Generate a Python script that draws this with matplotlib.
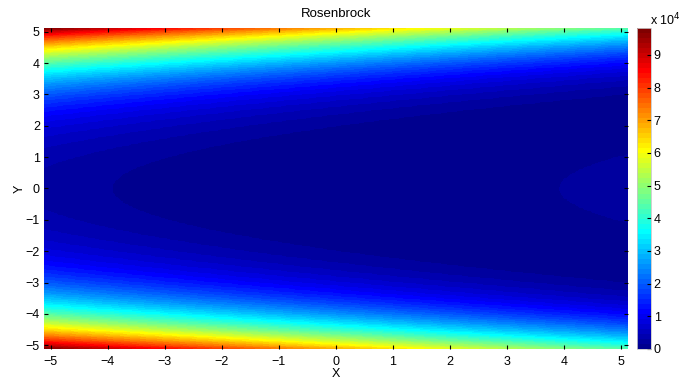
import numpy as np
import matplotlib
matplotlib.use("Agg")
import matplotlib.pyplot as plt
from matplotlib.colors import ListedColormap, Normalize

# domain of the surface and sampling step
x_min, x_max = -5.12, 5.12
y_min, y_max = -5.12, 5.12
step = 0.02

x_ticks = [-5, -4, -3, -2, -1, 0, 1, 2, 3, 4, 5]
y_ticks = [-5, -4, -3, -2, -1, 0, 1, 2, 3, 4, 5]
cbar_ticks = [0, 1, 2, 3, 4, 5, 6, 7, 8, 9]   # in units of 1e4

plt.rcParams['font.family'] = ['Liberation Sans', 'DejaVu Sans']
plt.rcParams['font.size'] = 9


def rosenbrock(x, y):
    # valley runs along x = y^2
    return 100.0 * (x - y**2)**2 + (1.0 - y)**2


def matlab_jet(n=64):
    m = int(np.ceil(n / 4))
    u = np.concatenate([np.arange(1, m + 1) / m, np.ones(m - 1), np.arange(m, 0, -1) / m])
    g = np.arange(1, len(u) + 1) + (n // 8)
    r = g + m
    b = g - m
    gg = g[g <= n]
    rr = r[r <= n]
    bb = b[b >= 1]
    J = np.zeros((n, 3))
    J[rr - 1, 0] = u[:len(rr)]
    J[gg - 1, 1] = u[:len(gg)]
    J[bb - 1, 2] = u[len(u) - len(bb):]
    return ListedColormap(J)


xs = np.arange(x_min, x_max + step / 2, step)
ys = np.arange(y_min, y_max + step / 2, step)
X, Y = np.meshgrid(xs, ys)
Z = rosenbrock(X, Y)

fig = plt.figure(figsize=(6.97, 3.81), dpi=100)
ax = fig.add_axes([0.0631, 0.084, 0.8375, 0.8425])
cax = fig.add_axes([0.914, 0.084, 0.020, 0.8425])

cmap = matlab_jet(64)
norm = Normalize(vmin=Z.min(), vmax=Z.max())
mesh = ax.pcolormesh(X, Y, Z, cmap=cmap, norm=norm, shading='auto', rasterized=True)
ax.set_xlim(x_min, x_max)
ax.set_ylim(y_min, y_max)
ax.set_xticks(x_ticks)
ax.set_yticks(y_ticks)
ax.tick_params(direction='in', length=3, top=True, right=True, pad=3)
ax.tick_params(axis='x', pad=5)
for s in ax.spines.values():
    s.set_visible(False)
ax.set_title('Rosenbrock', fontsize=9.5, pad=8)
ax.set_xlabel('X', labelpad=0)
ax.set_ylabel('Y', labelpad=0)

cb = fig.colorbar(mesh, cax=cax)
cb.set_ticks([t * 1e4 for t in cbar_ticks])
cb.set_ticklabels([str(t) for t in cbar_ticks])
cb.outline.set_edgecolor('#c8c8c8')
cb.outline.set_linewidth(0.6)
cax.tick_params(direction='in', length=3, pad=2)
fig.text(0.932, 0.925, r'x 10$^{4}$', fontsize=9, ha='left', va='bottom')

fig.savefig('out.png', dpi=100)
